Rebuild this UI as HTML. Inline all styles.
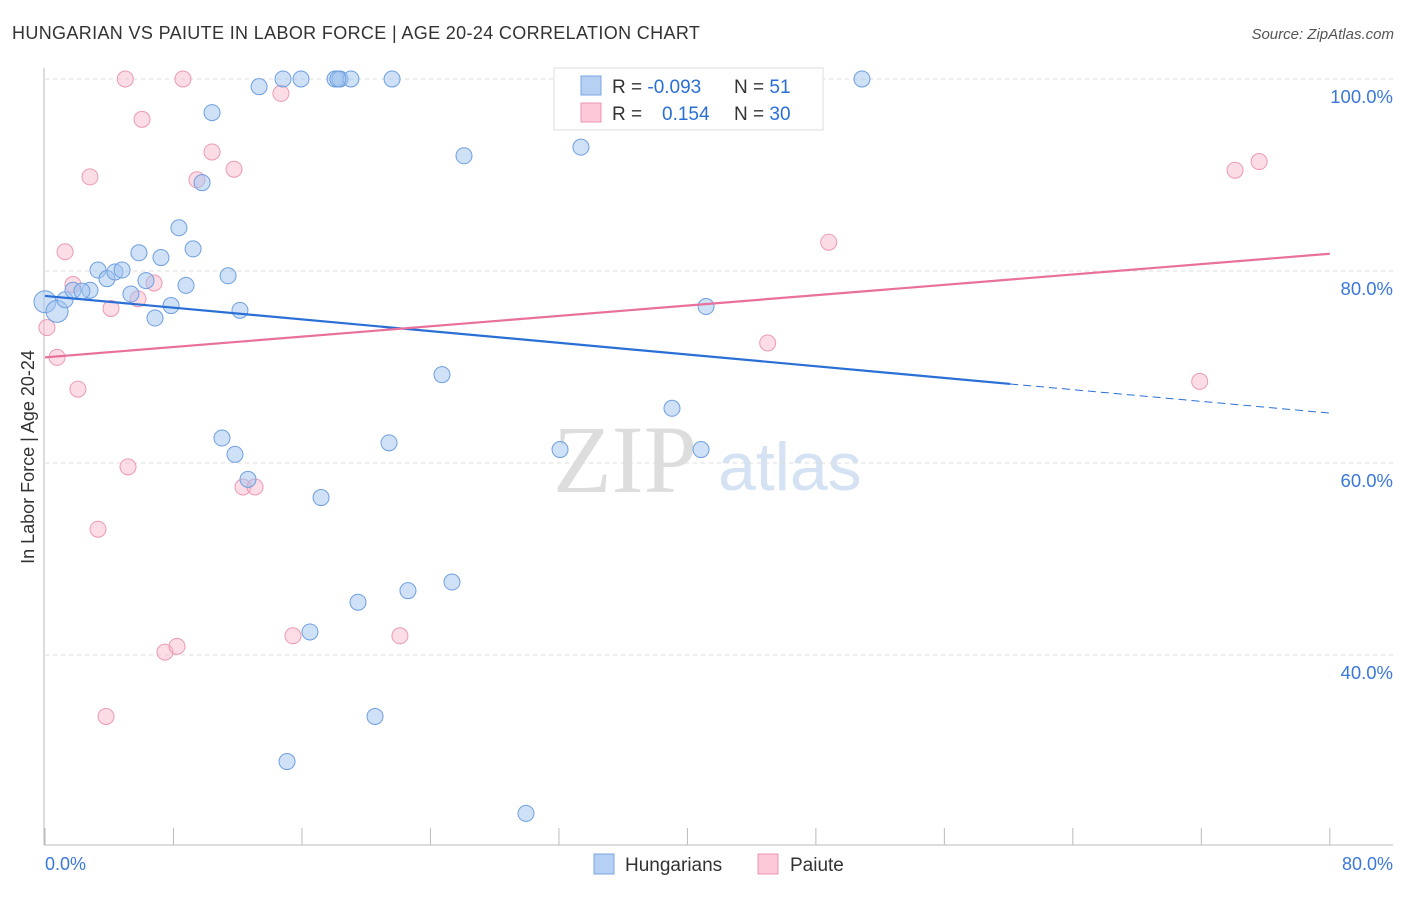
<!DOCTYPE html>
<html><head><meta charset="utf-8"><style>
body{margin:0;background:#fff;font-family:"Liberation Sans",sans-serif;}
</style></head><body>
<svg id="chart" width="1406" height="892" viewBox="0 0 1406 892" xmlns="http://www.w3.org/2000/svg">
<text x="12" y="39" font-size="18" letter-spacing="0.35" fill="#333">HUNGARIAN VS PAIUTE IN LABOR FORCE | AGE 20-24 CORRELATION CHART</text>
<text x="1394" y="39" font-size="15" fill="#555" font-style="italic" text-anchor="end">Source: ZipAtlas.com</text>
<text x="34" y="457" font-size="18" fill="#333" text-anchor="middle" transform="rotate(-90 34 457)">In Labor Force | Age 20-24</text>
<g>
<text x="553" y="492" font-size="96" font-family="Liberation Serif,serif" fill="#ddd">ZIP</text>
<text x="718" y="490" font-size="68" fill="#d4e2f4">atlas</text>
</g>
<g id="grid"></g><g id="axes"></g><g id="marks"></g>
<g>
<rect x="554" y="68" width="269" height="62" fill="#fff" stroke="#ddd"/>
<rect x="581" y="76" width="20" height="19" fill="#b5d0f3" stroke="#7aa6e3"/>
<rect x="581" y="103" width="20" height="19" fill="#fbc9d7" stroke="#ec95b1"/>
<text x="612" y="93" font-size="19" fill="#333">R = <tspan fill="#2a6fd6">-0.093</tspan></text>
<text x="734" y="93" font-size="19" fill="#333">N = <tspan fill="#2a6fd6"> 51</tspan></text>
<text x="612" y="120" font-size="19" fill="#333">R = <tspan fill="#2a6fd6" x="662">0.154</tspan></text>
<text x="734" y="120" font-size="19" fill="#333">N = <tspan fill="#2a6fd6">30</tspan></text>
</g>
<g>
<rect x="594" y="854" width="20" height="20" fill="#b5d0f3" stroke="#7aa6e3"/>
<text x="625" y="871" font-size="19" fill="#333">Hungarians</text>
<rect x="758" y="854" width="20" height="20" fill="#fbc9d7" stroke="#ec95b1"/>
<text x="790" y="871" font-size="19" fill="#333">Paiute</text>
</g>
</svg>
<script>
const blueX=[0.0,0.75,1.25,1.74,2.8,2.3,3.3,3.86,4.36,4.8,5.35,5.85,6.29,6.85,7.22,7.85,8.34,8.78,9.22,9.78,10.4,11.02,11.4,11.83,12.14,12.64,13.33,14.82,15.07,15.94,16.5,17.19,18.06,18.37,19.05,19.49,20.55,21.42,21.61,22.6,24.72,25.34,26.09,29.95,32.07,33.37,39.04,40.85,41.16,50.87,18.24];
const blueY=[76.8,75.8,77.0,78.0,78.0,77.9,80.1,79.2,79.9,80.1,77.6,81.9,79.0,75.1,81.4,76.4,84.5,78.5,82.3,89.2,96.5,62.6,79.5,60.9,75.9,58.3,99.2,100,28.9,100,42.4,56.4,100,100,100,45.5,33.6,62.1,100,46.7,69.2,47.6,92.0,23.5,61.4,92.9,65.7,61.4,76.3,100,100];
const pinkX=[0.12,0.75,1.25,1.74,2.05,2.8,3.3,3.8,4.11,5.0,5.17,5.79,6.04,6.79,7.47,8.22,8.59,9.46,10.4,11.77,12.33,13.08,14.69,15.44,22.1,45.0,48.8,71.9,74.1,75.6];
const pinkY=[74.1,71.0,82.0,78.6,67.7,89.8,53.1,33.6,76.1,100,59.6,77.1,95.8,78.75,40.3,40.9,100,89.5,92.4,90.6,57.5,57.5,98.5,42.0,42.0,72.5,83.0,68.5,90.5,91.4];
const blueTrend=[77.4,65.2];
const pinkTrend=[71.0,81.8];
const blueSolidEnd=60.1;
const yTicks=[100,80,60,40];
const xTickLabels=["0.0%","80.0%"];
const NS="http://www.w3.org/2000/svg";
const sx=v=>45+v*16.06;
const sy=v=>79+(100-v)*9.6;
function mk(tag,attrs,parent){const e=document.createElementNS(NS,tag);for(const k in attrs)e.setAttribute(k,attrs[k]);document.getElementById(parent).appendChild(e);return e;}
yTicks.forEach(t=>{
 const l=mk('line',{x1:45,x2:1393,y1:sy(t),y2:sy(t),stroke:'#ddd','stroke-dasharray':'4,4'},'grid');
 
 
 const tx=mk('text',{x:1393,y:sy(t)+24,'font-size':18.5,fill:'#3a78d8','text-anchor':'end'},'grid');
 tx.textContent=t.toFixed(1)+'%';
 
 
});
const ax=mk('line',{x1:44,x2:44,y1:68,y2:845,stroke:'#bbb'},'axes');


const bx=mk('line',{x1:44,x2:1393,y1:845,y2:845,stroke:'#bbb'},'axes');


for(let i=0;i<=10;i++){const t=mk('line',{x1:sx(i*8),x2:sx(i*8),y1:828,y2:845,stroke:'#bbb'},'axes');
 
 }
const xl0=mk('text',{x:45,y:870,'font-size':18,fill:'#3a78d8'},'axes');xl0.textContent=xTickLabels[0];


const xl1=mk('text',{x:1393,y:870,'font-size':18,fill:'#3a78d8','text-anchor':'end'},'axes');xl1.textContent=xTickLabels[1];


pinkX.forEach((x,i)=>{const c=mk('circle',{cx:sx(x),cy:sy(pinkY[i]),r:8,fill:'rgba(248,180,200,0.45)',stroke:'#eb9ab4','stroke-width':1},'marks');
 
 });
blueX.forEach((x,i)=>{const c=mk('circle',{cx:sx(x),cy:sy(blueY[i]),r:(i<2?11:8),fill:'rgba(160,195,240,0.5)',stroke:'#6f9fe0','stroke-width':1},'marks');
 
 });
const bs=blueTrend[0]+(blueTrend[1]-blueTrend[0])*blueSolidEnd/80;
const t1=mk('line',{x1:sx(0),y1:sy(blueTrend[0]),x2:sx(blueSolidEnd),y2:sy(bs),stroke:'#2a6fd6','stroke-width':2.2},'marks');


const t2=mk('line',{x1:sx(blueSolidEnd),y1:sy(bs),x2:sx(80),y2:sy(blueTrend[1]),stroke:'#2a6fd6','stroke-width':1,'stroke-dasharray':'8,5'},'marks');


const t3=mk('line',{x1:sx(0),y1:sy(pinkTrend[0]),x2:sx(80),y2:sy(pinkTrend[1]),stroke:'#e8709a','stroke-width':2.2},'marks');


</script>
</body></html>
